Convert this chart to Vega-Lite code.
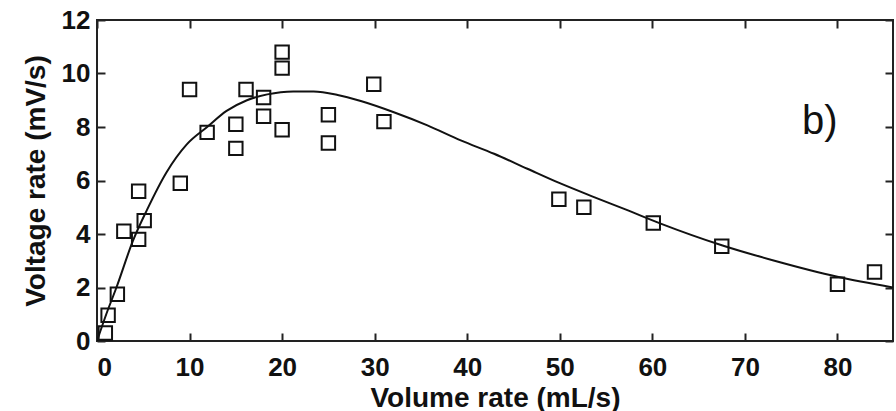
{
  "$schema": "https://vega.github.io/schema/vega-lite/v6.json",
  "width": 796,
  "height": 321,
  "autosize": "none",
  "padding": {"left": 97, "top": 20, "right": 3, "bottom": 70},
  "background": "white",
  "config": {
    "view": {"stroke": "#222", "strokeWidth": 2},
    "axis": {
      "grid": false,
      "domain": false,
      "tickColor": "#222",
      "tickWidth": 2,
      "tickSize": -8,
      "labelFont": "Liberation Sans",
      "labelFontWeight": "bold",
      "labelFontSize": 26,
      "labelColor": "#111",
      "titleFont": "Liberation Sans",
      "titleFontWeight": "bold",
      "titleFontSize": 28,
      "titleColor": "#111"
    }
  },
  "datasets": {
    "curve": [
      {"x": 0, "y": 0}, {"x": 1, "y": 1.0}, {"x": 2.1, "y": 2.0}, {"x": 3.9, "y": 3.76},
      {"x": 5.4, "y": 4.9}, {"x": 7.5, "y": 6.3}, {"x": 9.7, "y": 7.35}, {"x": 11.9, "y": 8.0},
      {"x": 14, "y": 8.6}, {"x": 16.2, "y": 9.0}, {"x": 18.4, "y": 9.22}, {"x": 21.2, "y": 9.33},
      {"x": 23.4, "y": 9.33}, {"x": 26, "y": 9.2}, {"x": 28.5, "y": 8.97}, {"x": 32, "y": 8.56},
      {"x": 35.7, "y": 8.06}, {"x": 39.3, "y": 7.5}, {"x": 42.9, "y": 7.0}, {"x": 46.5, "y": 6.44},
      {"x": 50, "y": 5.9}, {"x": 53.7, "y": 5.38}, {"x": 57.3, "y": 4.89}, {"x": 60.9, "y": 4.39},
      {"x": 67.5, "y": 3.58}, {"x": 73.2, "y": 3.0}, {"x": 80, "y": 2.4}, {"x": 86, "y": 2.0}
    ],
    "points": [
      {"x": 0.9, "y": 0.3}, {"x": 1.2, "y": 0.96}, {"x": 2.2, "y": 1.75}, {"x": 2.9, "y": 4.1},
      {"x": 4.5, "y": 3.8}, {"x": 4.5, "y": 5.6}, {"x": 5.1, "y": 4.5}, {"x": 9.0, "y": 5.9},
      {"x": 10, "y": 9.4}, {"x": 11.9, "y": 7.8}, {"x": 15, "y": 8.1}, {"x": 15, "y": 7.2},
      {"x": 16.1, "y": 9.4}, {"x": 18, "y": 9.1}, {"x": 18, "y": 8.4}, {"x": 20, "y": 10.8},
      {"x": 20, "y": 10.2}, {"x": 20, "y": 7.9}, {"x": 25, "y": 8.46}, {"x": 25, "y": 7.4},
      {"x": 29.9, "y": 9.6}, {"x": 31, "y": 8.2}, {"x": 49.9, "y": 5.3}, {"x": 52.6, "y": 5.0},
      {"x": 60.1, "y": 4.41}, {"x": 67.5, "y": 3.54}, {"x": 80, "y": 2.12}, {"x": 84, "y": 2.58}
    ],
    "label": [{"x": 78.1, "y": 7.75, "text": "b)"}]
  },
  "layer": [
    {
      "data": {"name": "curve"},
      "mark": {"type": "line", "color": "#111", "strokeWidth": 2, "interpolate": "monotone", "clip": true},
      "encoding": {
        "x": {"field": "x", "type": "quantitative", "scale": {"domain": [0, 86], "nice": false, "zero": false},
          "axis": {"orient": "bottom", "values": [0, 10, 20, 30, 40, 50, 60, 70, 80], "title": "Volume rate (mL/s)", "labelPadding": 21, "titleY": 65, "titleBaseline": "alphabetic"}},
        "y": {"field": "y", "type": "quantitative", "scale": {"domain": [0, 12], "nice": false},
          "axis": {"orient": "left", "values": [0, 2, 4, 6, 8, 10, 12], "title": "Voltage rate (mV/s)", "labelPadding": 15, "titleX": -53, "titleBaseline": "alphabetic"}}
      }
    },
    {
      "data": {"name": "points"},
      "mark": {"type": "point", "shape": "square", "filled": false, "stroke": "#111", "strokeWidth": 2, "size": 180, "opacity": 1},
      "encoding": {
        "x": {"field": "x", "type": "quantitative",
          "axis": {"orient": "top", "values": [0, 10, 20, 30, 40, 50, 60, 70, 80], "labels": false, "title": null}},
        "y": {"field": "y", "type": "quantitative",
          "axis": {"orient": "right", "values": [0, 2, 4, 6, 8, 10, 12], "labels": false, "title": null}}
      }
    },
    {
      "data": {"name": "label"},
      "mark": {"type": "text", "font": "Liberation Sans", "fontSize": 40, "color": "#111", "align": "center", "baseline": "alphabetic"},
      "encoding": {
        "x": {"field": "x", "type": "quantitative", "axis": null},
        "y": {"field": "y", "type": "quantitative", "axis": null},
        "text": {"field": "text"}
      }
    }
  ]
}
